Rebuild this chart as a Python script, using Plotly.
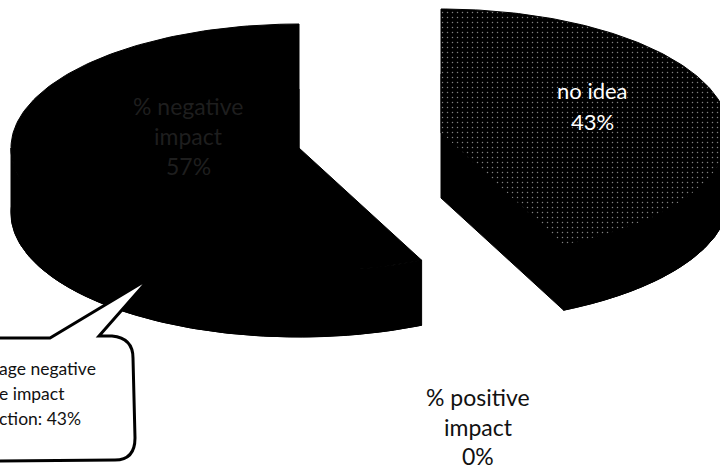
import numpy as np
import plotly.graph_objects as go

categories = ["no idea", "% negative impact", "% positive impact"]
values = [43, 57, 0]

# layout of the exploded, tilted pie (page pixels)
RX, RY, DEPTH = 288, 124, 65
CENTRES = {"no idea": (441, 133), "% negative impact": (299, 148)}
SPECKLED = {"no idea"}


def rim(cx, cy, a0, a1, n=160):
    t = np.radians(np.linspace(a0, a1, n))
    return cx + RX * np.sin(t), cy - RY * np.cos(t)


fig = go.Figure()
BLACK = "#000000"


def add_poly(xs, ys, **kw):
    fig.add_trace(go.Scatter(x=xs, y=ys, mode="lines", fill="toself", fillcolor=BLACK,
                             line=dict(color=BLACK, width=1), hoverinfo="skip",
                             showlegend=False, **kw))


total = sum(values)
angle = 0.0
for name, val in zip(categories, values):
    sweep = 360.0 * val / total
    if val > 0:
        cx, cy = CENTRES[name]
        x, y = rim(cx, cy, angle, angle + sweep)
        # base of the slice
        add_poly(np.r_[cx, x, cx], np.r_[cy, y, cy] + DEPTH)
        # front-facing outer wall (between 90 and 270 degrees clockwise from the top)
        w0, w1 = max(angle, 90.0), min(angle + sweep, 270.0)
        wx, wy = rim(cx, cy, w0, w1)
        add_poly(np.r_[wx, wx[::-1], wx[0]], np.r_[wy, (wy + DEPTH)[::-1], wy[0]])
        # top face
        kw = {}
        if name in SPECKLED:
            kw["fillpattern"] = dict(shape=".", bgcolor=BLACK, fgcolor="#ffffff", size=5, solidity=0.07)
        add_poly(np.r_[cx, x, cx], np.r_[cy, y, cy], **kw)
    angle += sweep

# callout bubble
fig.add_shape(type="path",
              path=("M -10 338 L 50 338 L 150 278 L 99 336 L 112 336 Q 133 338 133 358 "
                    "L 135 438 Q 135 460 115 460 L -10 461 Z"),
              line=dict(color=BLACK, width=3), fillcolor="#ffffff", layer="above")

FONT = "Lato, 'Open Sans', sans-serif"


def label(txt, x, y, size, color, anchor="center", xshift=0):
    fig.add_annotation(x=x, y=y, text=txt, showarrow=False, xanchor=anchor, yanchor="middle",
                       xshift=xshift, font=dict(family=FONT, size=size, color=color))


for i, t in enumerate(["% negative", "impact", "57%"]):
    label(t, 188, 106 + 30 * i, 23, "#1e1e1e")
for i, t in enumerate(["no idea", "43%"]):
    label(t, 592, 90 + 31 * i, 22, "#ffffff")
for i, t in enumerate(["% positive", "impact", "0%"]):
    label(t, 478, 397 + 29.5 * i, 23, "#111111")
for i, t in enumerate(["age negative", "e impact", "ction: 43%"]):
    label(t, 0, 368 + 25 * i, 17.5, "#111111", anchor="left", xshift=-3)

fig.update_layout(width=720, height=470, margin=dict(l=0, r=0, t=0, b=0),
                  paper_bgcolor="#ffffff", plot_bgcolor="#ffffff", showlegend=False)
fig.update_xaxes(range=[0, 720], visible=False, fixedrange=True)
fig.update_yaxes(range=[470, 0], visible=False, fixedrange=True)
fig.write_html("out.html", config={"displayModeBar": False},
               post_script="document.body.style.margin='0';document.documentElement.style.overflow='hidden';")
